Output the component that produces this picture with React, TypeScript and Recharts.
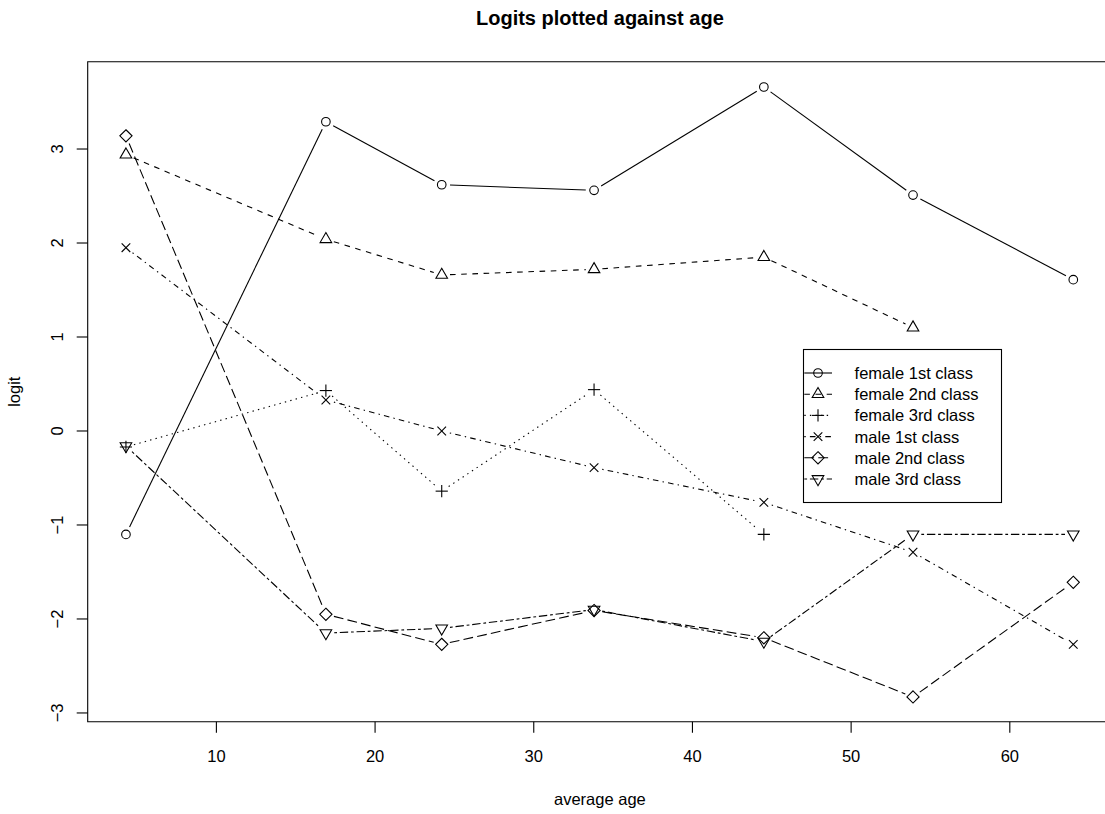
import React from 'react';
import { LineChart, Line, XAxis, YAxis, Legend, ReferenceArea } from 'recharts';

const FONT = '"Liberation Sans", Arial, Helvetica, sans-serif';
const TITLE = 'Logits plotted against age';
const X_LABEL = 'average age';
const Y_LABEL = 'logit';

const AGES = [4.3, 16.9, 24.2, 33.8, 44.5, 53.9, 64.0];
const FEMALE_1ST = [-1.1, 3.29, 2.62, 2.56, 3.66, 2.51, 1.61];
const FEMALE_2ND = [2.94, 2.04, 1.66, 1.72, 1.85, 1.1, null];
const FEMALE_3RD = [-0.17, 0.43, -0.64, 0.44, -1.1, null, null];
const MALE_1ST = [1.95, 0.33, 0.0, -0.39, -0.76, -1.29, -2.27];
const MALE_2ND = [3.14, -1.95, -2.27, -1.91, -2.2, -2.83, -1.61];
const MALE_3RD = [-0.16, -2.15, -2.1, -1.9, -2.24, -1.1, -1.1];

const SERIES_NAMES = [
  'female 1st class',
  'female 2nd class',
  'female 3rd class',
  'male 1st class',
  'male 2nd class',
  'male 3rd class',
];
const SERIES_KEYS = ['f1', 'f2', 'f3', 'm1', 'm2', 'm3'];
const SERIES_VALUES = [FEMALE_1ST, FEMALE_2ND, FEMALE_3RD, MALE_1ST, MALE_2ND, MALE_3RD];
const SYMBOLS = ['circle', 'triUp', 'plus', 'cross', 'diamond', 'triDown'];
const DASHES: (string | undefined)[] = [
  undefined,
  '5.6 5.6',
  '1.4 4.2',
  '1.4 4.2 5.6 4.2',
  '9.8 4.2',
  '2.8 2.8 8.4 2.8',
];

const X_TICKS = [10, 20, 30, 40, 50, 60];
const Y_TICKS = [-3, -2, -1, 0, 1, 2, 3];
const X_DOMAIN: [number, number] = [1.89, 66.44];
const Y_DOMAIN: [number, number] = [-3.093, 3.929];

const data = AGES.map((age, i) => {
  const row: Record<string, number | null> = { age };
  SERIES_KEYS.forEach((k, s) => {
    row[k] = SERIES_VALUES[s][i];
  });
  return row;
});

const SW = 1.1;
const GAP = 8.3;
const FS = 16.5;

function Sym({ kind, cx, cy }: { kind: string; cx: number; cy: number }) {
  const c = { stroke: '#000', strokeWidth: SW, fill: 'none' };
  switch (kind) {
    case 'circle':
      return <circle cx={cx} cy={cy} r={4.3} {...c} />;
    case 'triUp':
      return (
        <polygon
          points={`${cx},${cy - 6.7} ${cx + 5.8},${cy + 3.35} ${cx - 5.8},${cy + 3.35}`}
          {...c}
        />
      );
    case 'triDown':
      return (
        <polygon
          points={`${cx},${cy + 6.7} ${cx + 5.8},${cy - 3.35} ${cx - 5.8},${cy - 3.35}`}
          {...c}
        />
      );
    case 'plus':
      return (
        <g {...c}>
          <line x1={cx - 6.1} y1={cy} x2={cx + 6.1} y2={cy} />
          <line x1={cx} y1={cy - 6.1} x2={cx} y2={cy + 6.1} />
        </g>
      );
    case 'cross':
      return (
        <g {...c}>
          <line x1={cx - 4.3} y1={cy - 4.3} x2={cx + 4.3} y2={cy + 4.3} />
          <line x1={cx - 4.3} y1={cy + 4.3} x2={cx + 4.3} y2={cy - 4.3} />
        </g>
      );
    case 'diamond':
      return (
        <polygon
          points={`${cx},${cy - 6.1} ${cx + 6.1},${cy} ${cx},${cy + 6.1} ${cx - 6.1},${cy}`}
          {...c}
        />
      );
    default:
      return null;
  }
}

const valid = (v: any) => v !== null && v !== undefined && !Number.isNaN(v);

const makeDot = (s: number) => (props: any) => {
  const { cx, cy, index, points } = props;
  const key = `dot-${s}-${index}`;
  if (!valid(cx) || !valid(cy)) return <g key={key} />;
  let seg = null;
  const next = points ? points[index + 1] : null;
  if (next && valid(next.x) && valid(next.y)) {
    const dx = next.x - cx;
    const dy = next.y - cy;
    const L = Math.hypot(dx, dy);
    if (L > 2 * GAP) {
      const f = GAP / L;
      seg = (
        <line
          x1={cx + dx * f}
          y1={cy + dy * f}
          x2={next.x - dx * f}
          y2={next.y - dy * f}
          stroke="#000"
          strokeWidth={SW}
          strokeDasharray={DASHES[s]}
          fill="none"
        />
      );
    }
  }
  return (
    <g key={key}>
      {seg}
      <Sym kind={SYMBOLS[s]} cx={cx} cy={cy} />
    </g>
  );
};

const fmt = (v: number) => (v < 0 ? '\u2212' + Math.abs(v) : String(v));

const XTick = (props: any) => {
  const { x, y, payload } = props;
  return (
    <text x={x} y={y + 29.3} textAnchor="middle" fontFamily={FONT} fontSize={FS} fill="#000">
      {fmt(payload.value)}
    </text>
  );
};

const YTick = (props: any) => {
  const { x, y, payload } = props;
  const bx = x - 13.4;
  return (
    <text
      x={bx}
      y={y}
      transform={`rotate(-90, ${bx}, ${y})`}
      textAnchor="middle"
      fontFamily={FONT}
      fontSize={FS}
      fill="#000"
    >
      {fmt(payload.value)}
    </text>
  );
};

const LegendBox = () => {
  const rowY = (i: number) => 24 + i * 21.2;
  return (
    <svg width={199} height={154} style={{ display: 'block', overflow: 'visible' }}>
      <rect x={0.5} y={0.5} width={198} height={153} fill="#fff" stroke="#000" strokeWidth={SW} />
      {SERIES_NAMES.map((name, i) => (
        <g key={name}>
          <line
            x1={1.3}
            y1={rowY(i)}
            x2={29}
            y2={rowY(i)}
            stroke="#000"
            strokeWidth={SW}
            strokeDasharray={DASHES[i]}
          />
          <Sym kind={SYMBOLS[i]} cx={15} cy={rowY(i)} />
          <text x={51.6} y={rowY(i) + 5.9} fontFamily={FONT} fontSize={FS} fill="#000">
            {name}
          </text>
        </g>
      ))}
    </svg>
  );
};

export default function App() {
  return (
    <div
      style={{
        position: 'fixed',
        left: 0,
        top: 0,
        width: 1105,
        height: 814,
        overflow: 'hidden',
        background: '#fff',
      }}
    >
      <LineChart
        width={1130}
        height={814}
        data={data}
        margin={{ top: 61.7, right: 18, bottom: 0, left: 0.7 }}
      >
        <XAxis
          dataKey="age"
          type="number"
          domain={X_DOMAIN}
          ticks={X_TICKS}
          interval={0}
          allowDataOverflow
          height={92.3}
          axisLine={false}
          tickSize={11}
          tickMargin={0}
          tickLine={{ stroke: '#000', strokeWidth: SW }}
          tick={<XTick />}
        />
        <YAxis
          type="number"
          domain={Y_DOMAIN}
          ticks={Y_TICKS}
          interval={0}
          allowDataOverflow
          width={87}
          axisLine={false}
          tickSize={11}
          tickMargin={0}
          tickLine={{ stroke: '#000', strokeWidth: SW }}
          tick={<YTick />}
        />
        <ReferenceArea
          x1={X_DOMAIN[0]}
          x2={X_DOMAIN[1]}
          y1={Y_DOMAIN[0]}
          y2={Y_DOMAIN[1]}
          fill="none"
          fillOpacity={0}
          stroke="#000"
          strokeWidth={SW}
          strokeOpacity={1}
          ifOverflow="visible"
        />
        {SERIES_KEYS.map((k, s) => (
          <Line
            key={k}
            dataKey={k}
            name={SERIES_NAMES[s]}
            stroke="none"
            strokeWidth={0}
            dot={makeDot(s)}
            activeDot={false}
            connectNulls={false}
            isAnimationActive={false}
          />
        ))}
        <Legend
          layout="vertical"
          align="center"
          verticalAlign="middle"
          content={() => <LegendBox />}
          wrapperStyle={{
            position: 'absolute',
            left: 802.7,
            top: 349.3,
            width: 199,
            height: 154,
            margin: 0,
            padding: 0,
          }}
        />
      </LineChart>
      <svg
        width={1105}
        height={814}
        style={{ position: 'absolute', left: 0, top: 0, pointerEvents: 'none' }}
      >
        <text
          x={599.9}
          y={24.5}
          textAnchor="middle"
          fontFamily={FONT}
          fontSize={20}
          fontWeight="bold"
          fill="#000"
        >
          {TITLE}
        </text>
        <text x={599.9} y={804.5} textAnchor="middle" fontFamily={FONT} fontSize={FS} fill="#000">
          {X_LABEL}
        </text>
        <text
          x={20}
          y={391.7}
          transform="rotate(-90, 20, 391.7)"
          textAnchor="middle"
          fontFamily={FONT}
          fontSize={FS}
          fill="#000"
        >
          {Y_LABEL}
        </text>
      </svg>
    </div>
  );
}
